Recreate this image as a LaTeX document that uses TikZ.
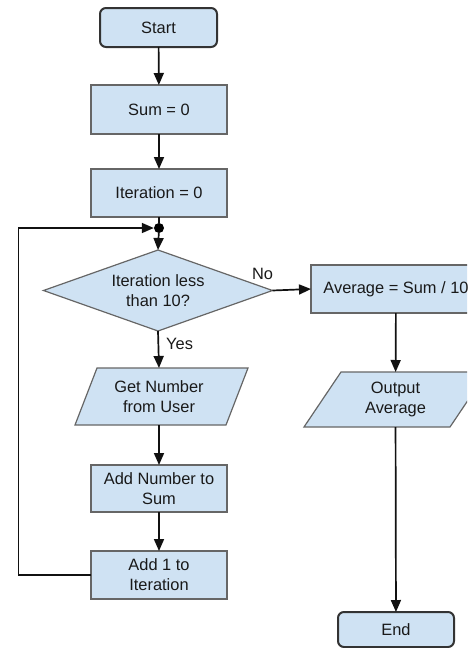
\documentclass[tikz,border=0pt]{standalone}
\usepackage{fontspec}
\setmainfont{Liberation Sans}
\usetikzlibrary{shapes.geometric,arrows.meta,calc}

\definecolor{boxfill}{HTML}{CFE2F3}
\definecolor{boxline}{HTML}{666666}
\definecolor{termline}{HTML}{333333}
\definecolor{flowline}{HTML}{111111}

\tikzset{
  base/.style={fill=boxfill, align=center, inner sep=0pt, outer sep=0pt,
    font=\fontsize{16.4}{20}\selectfont, text=black!90},
  terminal/.style={base, draw=termline, line width=2pt, rounded corners=6pt,
    rectangle, minimum width=117pt},
  procbox/.style={base, draw=boxline, line width=1.2pt, rectangle,
    minimum width=136pt, minimum height=48pt},
  iotext/.style={base, fill=none, rectangle},
  ioshape/.style={fill=boxfill, draw=boxline, line width=1.2pt, line join=miter},
  decision/.style={base, draw=boxline, line width=1.2pt, diamond,
    aspect=2.83, minimum width=229pt, minimum height=81pt},
  flow/.style={draw=flowline, line width=1.7pt,
    -{Triangle[length=12pt,width=10pt]}},
  plainflow/.style={draw=flowline, line width=1.7pt},
  lbl/.style={font=\fontsize{16.4}{20}\selectfont, text=black!90, inner sep=0pt}
}

\begin{document}
\begin{tikzpicture}[x=1pt,y=-1pt]
  \clip (0,0) rectangle (467,648);

  % parallelogram outlines for the two input/output steps
  \path[ioshape] (75,425) -- (97,368) -- (248,368) -- (226,425) -- cycle;
  \path[ioshape] (304,427) -- (341,372) -- (487,372) -- (450,427) -- cycle;

  % left column
  \node[terminal, minimum height=39pt] (start) at (158.5,27.5) {Start};
  \node[procbox, minimum height=49pt] (sum) at (159,109.5) {Sum = 0};
  \node[procbox] (iter) at (159,193) {Iteration = 0};
  \node[circle, fill=black, inner sep=0pt, minimum size=10pt] (join) at (159,228) {};
  \node[decision] (cond) at (158,290.5) {Iteration less\\than 10?};
  \node[iotext, minimum width=151pt, minimum height=57pt] (getnum) at (159,396.5) {Get Number\\from User};
  \node[procbox, minimum height=47pt] (addnum) at (159,488.5) {Add Number to\\Sum};
  \node[procbox] (addone) at (159,575) {Add 1 to\\Iteration};

  % right column
  \node[procbox, minimum width=170pt] (avg) at (396,289) {Average = Sum / 10};
  \node[iotext, minimum width=146pt, minimum height=55pt] (outavg) at (395.5,399.5) {Output\\Average};
  \node[terminal, minimum height=35pt, minimum width=116pt] (finish) at (396,629.5) {End};

  % loop back corner
  \coordinate (loopbot) at (18.5,575);
  \coordinate (looptop) at (18.5,228);

  % connectors
  \draw[flow] (start) -- (sum);
  \draw[flow] (sum) -- (iter);
  \draw[plainflow] (iter) -- (join);
  \draw[flow] (join) -- (cond.north);
  \draw[flow] (cond.east) -- (avg.west);
  \draw[flow] (cond.south) -- (getnum.north);
  \draw[flow] (getnum) -- (addnum);
  \draw[flow] (addnum) -- (addone);
  \draw[flow] (addone.west) -- (loopbot) -- (looptop) -- (join.west);
  \draw[flow] (avg) -- (outavg);
  \draw[flow] (outavg) -- (finish);

  % branch labels
  \node[lbl] (nolbl) at ($(cond.east)+(-10,-17)$) {No};
  \node[lbl, anchor=west] (yeslbl) at ($(cond.south)+(8,13)$) {Yes};
\end{tikzpicture}
\end{document}
